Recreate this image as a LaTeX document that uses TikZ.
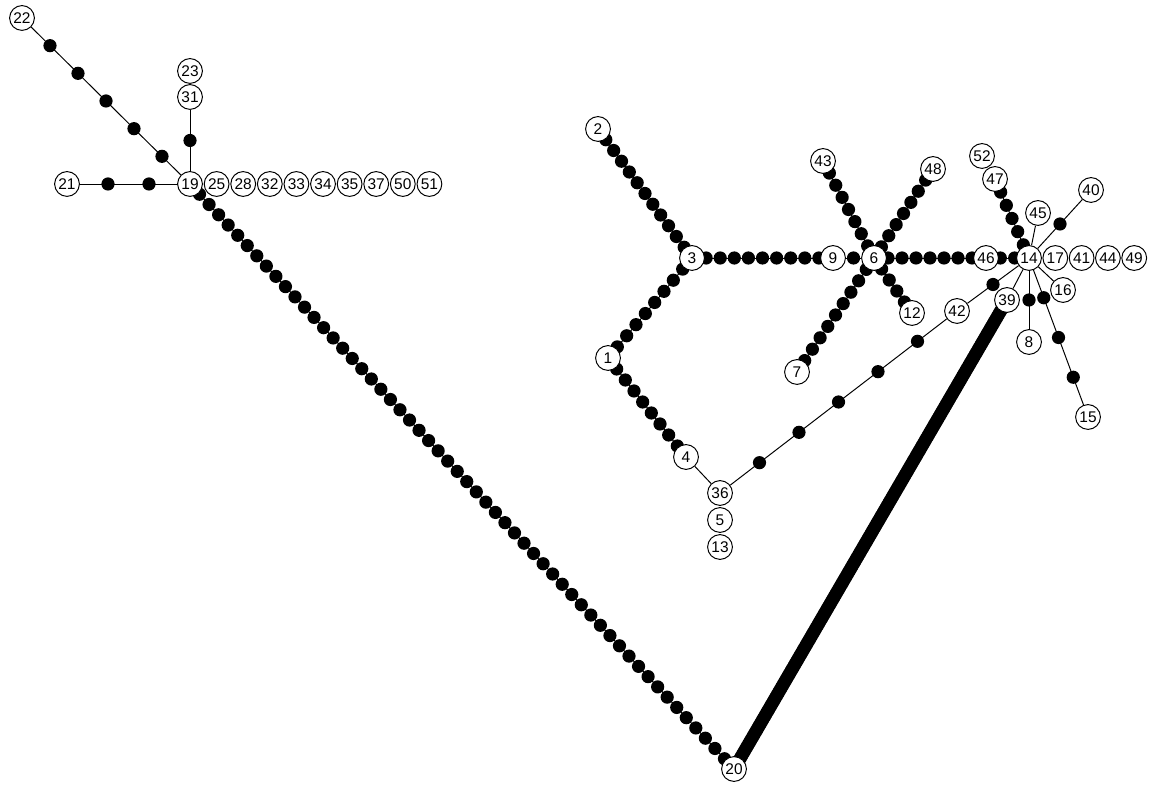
\documentclass[tikz,border=0pt]{standalone}
\usepackage{fontspec}
\setmainfont{Liberation Sans}
\usetikzlibrary{calc,backgrounds}
\tikzset{
  vert/.style={circle, draw, fill=white, line width=0.7pt, minimum size=0.62cm,
    inner sep=0pt, font=\fontsize{11}{12}\selectfont},
  bead/.style={fill=black},
  link/.style={line width=0.7pt},
}
\begin{document}
\begin{tikzpicture}[x=0.025cm, y=-0.025cm]
\useasboundingbox (0,0) rectangle (1157,786);

% labelled vertices
\foreach \v/\x/\y in {22/22/18, 23/190/71, 31/190/97, 19/190/184, 21/67/184,
    2/598/129, 3/692/258, 9/833/258, 6/874/258, 43/823/161, 48/933/169,
    12/912/313, 7/797/372, 1/608/358, 4/686/457, 36/720/493, 5/720/520,
    13/720/547, 46/986/258, 14/1029/258, 52/982/156, 47/995/179, 45/1038/213,
    40/1091/190, 16/1063/290, 8/1029/342, 15/1088/417, 39/1007/300,
    42/957/311, 20/734/769}
  \node[vert] (n\v) at (\x,\y) {\v};

% stacked isolated vertices beside 19 and 14
\foreach \v [count=\k] in {25,28,32,33,34,35,37,50,51}
  \node[vert] (n\v) at (190+26.6*\k,184) {\v};
\foreach \v [count=\k] in {17,41,44,49}
  \node[vert] (n\v) at (1029+26.3*\k,258) {\v};

% edges, beaded with the intermediate points
\begin{pgfonlayer}{background}
\foreach \a/\b in {4/36, 14/45, 14/16, 14/39}
  \draw[link] (n\a) -- (n\b);
\foreach \a/\b/\n in {22/19/5, 21/19/2, 31/19/1, 19/20/56, 20/39/180,
    2/3/11, 3/9/9, 9/6/1, 1/3/8, 1/4/8, 43/6/7, 6/7/9, 6/48/7, 6/12/4,
    6/46/7, 46/14/2, 47/14/5, 36/42/5, 42/14/1, 14/40/1, 14/8/1, 14/15/3}{
  \draw[link] (n\a) -- (n\b);
  \foreach \i [evaluate=\i as \f using \i/(\n+1)] in {1,...,\n}
    \fill[bead] ($(n\a)!\f!(n\b)$) circle (0.165cm);
}
\end{pgfonlayer}
\end{tikzpicture}
\end{document}
